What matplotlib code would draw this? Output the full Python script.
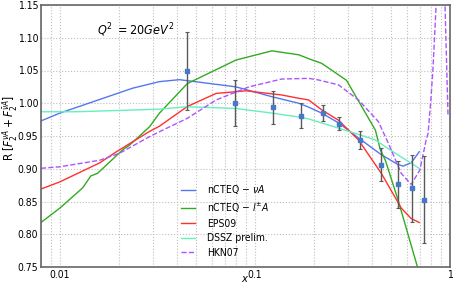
import matplotlib
matplotlib.use("Agg")
import matplotlib.pyplot as plt
import numpy as np

plt.rcParams['font.family'] = ['DejaVu Sans']
plt.rcParams['font.stretch'] = 'condensed'
plt.rcParams['mathtext.fontset'] = 'custom'
plt.rcParams['mathtext.rm'] = 'DejaVu Sans:stretch=condensed'
plt.rcParams['mathtext.it'] = 'DejaVu Sans:style=italic:stretch=condensed'
plt.rcParams['mathtext.bf'] = 'DejaVu Sans:weight=bold:stretch=condensed'

# data
x_blue = [0.008, 0.010, 0.0236, 0.0324, 0.041, 0.080, 0.122, 0.1677, 0.1886,
          0.2197, 0.2683, 0.3394, 0.4394, 0.5366, 0.574, 0.6324, 0.6867, 0.6947]
y_blue = [0.973, 0.985, 1.023, 1.033, 1.036, 1.025, 1.010, 1.000, 0.994,
          0.985, 0.970, 0.947, 0.9225, 0.907, 0.904, 0.909, 0.9236, 0.926]

x_green = [0.008, 0.010, 0.0131, 0.0144, 0.0156, 0.0210, 0.02275, 0.0288, 0.0324,
           0.045, 0.080, 0.122, 0.1677, 0.1886, 0.2197, 0.2947, 0.4144, 0.4394,
           0.4661, 0.5421, 0.6788, 0.72]
y_green = [0.818, 0.840, 0.871, 0.889, 0.893, 0.929, 0.936, 0.964, 0.985,
           1.030, 1.066, 1.080, 1.074, 1.068, 1.061, 1.035, 0.959, 0.929,
           0.913, 0.852, 0.7515, 0.70]

x_red = [0.008, 0.010, 0.016, 0.0195, 0.0288, 0.0324, 0.045, 0.0632, 0.090,
         0.1373, 0.1677, 0.1886, 0.2197, 0.2683, 0.3394, 0.4446, 0.5623,
         0.6324, 0.6947]
y_red = [0.869, 0.880, 0.909, 0.926, 0.957, 0.965, 0.995, 1.015, 1.019,
         1.0126, 1.0076, 1.005, 0.990, 0.974, 0.944, 0.893, 0.840,
         0.824, 0.818]

x_cyan = [0.008, 0.012, 0.020, 0.0324, 0.045, 0.080, 0.122, 0.1677, 0.1886,
          0.2683, 0.3474, 0.4144, 0.4942, 0.5421, 0.6947]
y_cyan = [0.987, 0.987, 0.989, 0.991, 0.9947, 0.992, 0.985, 0.979, 0.976,
          0.962, 0.9515, 0.944, 0.9286, 0.921, 0.9007]

x_purple = [0.008, 0.010, 0.016, 0.0202, 0.0288, 0.0324, 0.045, 0.0632, 0.0932,
            0.1373, 0.1886, 0.2121, 0.2683, 0.3394, 0.4292, 0.4828, 0.5623,
            0.6324, 0.7006, 0.7546, 0.7722, 0.80, 0.819, 0.848, 0.87,
            np.nan, 0.935, 0.943, 0.977]
y_purple = [0.9007, 0.903, 0.913, 0.9236, 0.949, 0.9566, 0.977, 1.005, 1.025,
            1.037, 1.038, 1.0355, 1.028, 1.005, 0.972, 0.939, 0.893,
            0.876, 0.898, 0.944, 0.954, 1.010, 1.056, 1.147, 1.25,
            np.nan, 1.25, 1.15, 0.98]

x_data = [0.0448, 0.0793, 0.1236, 0.172, 0.222, 0.270, 0.344, 0.441, 0.5385, 0.638, 0.734]
y_data = [1.049, 1.000, 0.994, 0.981, 0.985, 0.969, 0.944, 0.906, 0.876, 0.870, 0.853]
y_err = [0.060, 0.035, 0.025, 0.019, 0.012, 0.010, 0.014, 0.025, 0.036, 0.051, 0.066]

fig = plt.figure(figsize=(4.54, 2.85), dpi=100)
ax = fig.add_axes([41/454, 18/285, 409/454, 262/285])

ax.plot(x_blue, y_blue, color='#5577ee', lw=1.0, label=r'nCTEQ $-\ \nu A$')
ax.plot(x_green, y_green, color='#33aa22', lw=1.0, label=r'nCTEQ $-\ l^{\pm}A$')
ax.plot(x_red, y_red, color='#ff3030', lw=1.0, label='EPS09')
ax.plot(x_cyan, y_cyan, color='#66f0bb', lw=1.0, label='DSSZ prelim.')
ax.plot(x_purple, y_purple, color='#aa55ff', lw=1.0, ls='--', label='HKN07')

ax.errorbar(x_data, y_data, yerr=y_err, fmt='s', ms=3, color='#4a78c8',
            ecolor='0.35', elinewidth=1.0, capsize=1.5, capthick=0.8)

ax.set_xscale('log')
ax.set_xlim(0.008, 1.0)
ax.set_ylim(0.75, 1.15)
ax.set_yticks(np.arange(0.75, 1.151, 0.05))
ax.set_xticks([0.01, 0.1, 1])
ax.set_xticklabels(['0.01', '0.1', '1'])
ax.grid(True, which='both', ls=':', color='0.75', lw=0.8)
ax.tick_params(axis='both', which='both', length=0, labelsize=7.5, pad=2)
for s in ax.spines.values():
    s.set_color('0.4')
    s.set_linewidth(1.2)

ax.set_xlabel(r'$x$', fontsize=8)
ax.xaxis.set_label_coords(0.5, -0.025)
ax.set_ylabel(r'$\mathrm{R}\ [F_2^{\nu A}+F_2^{\bar{\nu}A}]$', fontsize=8.5)
ax.yaxis.set_label_coords(-0.052, 0.53)
ax.text(0.137, 0.905, r'$Q^2\ =20GeV^2$', transform=ax.transAxes, fontsize=9,
        va='center')

ax.legend(loc='upper left', bbox_to_anchor=(0.342, 0.32), frameon=False,
          fontsize=7.5, handlelength=1.35, handletextpad=1.2, labelspacing=0.42,
          borderaxespad=0, borderpad=0)

fig.savefig('out.png', dpi=100)
